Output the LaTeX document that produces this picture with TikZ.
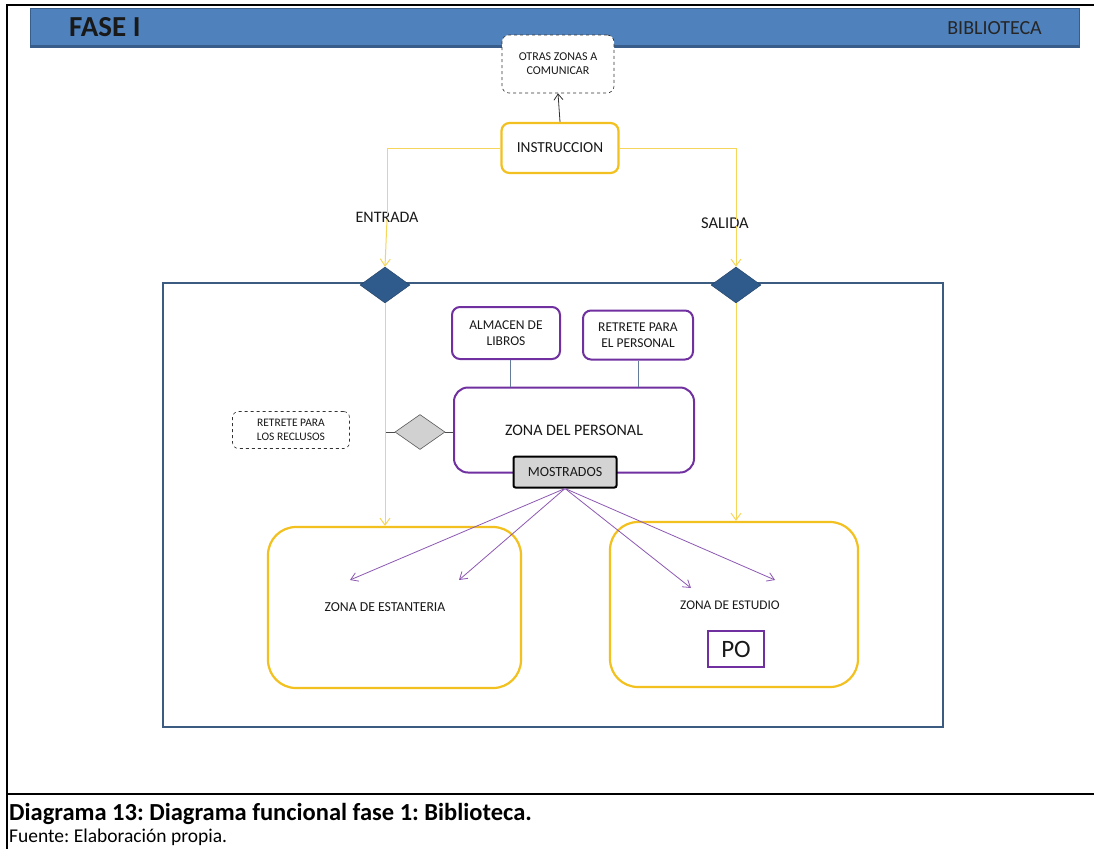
\documentclass[tikz,border=0pt]{standalone}
\usepackage{fontspec}
\setmainfont{Carlito}
\usetikzlibrary{shapes.geometric,arrows.meta}
\definecolor{hdr}{HTML}{4F81BD}
\definecolor{hdrdark}{HTML}{385D8A}
\definecolor{frameblue}{HTML}{3B5B80}
\definecolor{ylw}{HTML}{F2C11F}
\definecolor{ylwline}{HTML}{F5D65A}
\definecolor{prp}{HTML}{7030A0}
\definecolor{dia}{HTML}{2F5A8C}
\frenchspacing
\tikzset{
  x=1pt,y=-1pt,
  every node/.style={font=\fontsize{14}{16}\selectfont, align=center, inner sep=0pt, text=black!90},
  ybox/.style={draw=ylw, line width=2.2pt, rounded corners=14pt, fill=white},
  pbox/.style={draw=prp, line width=2pt, rounded corners=8pt, fill=white},
  dbox/.style={draw=black!80, dashed, line width=0.6pt, rounded corners=7pt, fill=white},
  yline/.style={draw=ylwline, line width=1pt},
  yarrow/.style={yline, -{Straight Barb[length=7pt,width=10pt]}},
  parrow/.style={draw=prp!80, line width=0.8pt, -{Straight Barb[length=7pt,width=9pt]}},
  bdia/.style={diamond, fill=dia, draw=dia!70!black, minimum width=50pt, minimum height=36pt, aspect=1.4},
}
\begin{document}
\begin{tikzpicture}
\useasboundingbox (0,0) rectangle (1094,849);
\fill[white] (0,0) rectangle (1094,849);
% outer frame
\draw[line width=2pt] (1094,5) -- (7,5) -- (7,849);
\draw[line width=2pt] (7,794) -- (1094,794);
% header
\fill[hdr] (30,8) rectangle (1079,47);
\draw[hdrdark, line width=2pt] (30,46) -- (1079,46);
\draw[hdrdark, line width=0.6pt] (30,8) rectangle (1079,47);
\node[anchor=base west, font=\fontsize{29}{31}\selectfont\bfseries, text=black!90] (fase) at (69,36) {FASE I};
\node[anchor=base east, font=\fontsize{20}{22}\selectfont, text=black!85] (bib) at (1042,34) {BIBLIOTECA};
% big room frame
\draw[frameblue, line width=2.5pt] (163,283) rectangle (943,727);
% top nodes
\node[dbox, minimum width=112pt, minimum height=58pt, font=\fontsize{12}{14}\selectfont] (otras) at (558,64) {OTRAS ZONAS A\\COMUNICAR};
\node[ybox, rounded corners=8pt, minimum width=117pt, minimum height=50pt, font=\fontsize{15.3}{17}\selectfont] (instr) at (560,148) {INSTRUCCION};
\draw[black!80, line width=0.8pt, -{Straight Barb[length=6pt,width=9pt]}] (instr.north) -- (otras.south);
% labels
\node[font=\fontsize{16}{18}\selectfont] (ent) at (387,217) {ENTRADA};
\node[font=\fontsize{16.5}{18}\selectfont] (sal) at (725,223) {SALIDA};
% diamonds
\node[bdia] (dl) at (385,285) {};
\node[bdia] (dr) at (736,285) {};
% yellow connectors
\draw[yline] (instr.west) -| ([yshift=-3pt]ent.north);
\draw[yline] (instr.east) -| ([yshift=-3pt]sal.north -| 736,0);
\draw[yarrow] ([yshift=3pt]ent.south) -- (dl.north);
\draw[yarrow] ([yshift=3pt]sal.south -| 736,0) -- (dr.north);
% inner boxes
\node[pbox, minimum width=108pt, minimum height=52pt, font=\fontsize{13.5}{16}\selectfont] (alm) at (506,333) {ALMACEN DE\\LIBROS};
\node[pbox, minimum width=110pt, minimum height=49pt, font=\fontsize{13.5}{16}\selectfont] (ret) at (638,335) {RETRETE PARA\\EL PERSONAL};
\node[pbox, rounded corners=14pt, minimum width=240pt, minimum height=85pt, font=\fontsize{16}{18}\selectfont] (zp) at (574,430) {ZONA DEL PERSONAL};
\draw[frameblue!80, line width=0.6pt] (alm.south -| 510,0) -- (zp.north -| 510,0);
\draw[frameblue!80, line width=0.6pt] (ret.south) -- (zp.north -| ret.south);
\node[draw=black, line width=2pt, fill=black!17, rounded corners=2pt, minimum width=103pt, minimum height=31pt, font=\fontsize{14}{16}\selectfont] (most) at (565,472) {MOSTRADOS};
\node[diamond, fill=black!18, draw=black!65, line width=0.6pt, minimum width=50pt, minimum height=35pt, aspect=1.4] (gd) at (420,432) {};
\node[dbox, rounded corners=6pt, minimum width=117pt, minimum height=37pt, font=\fontsize{11.5}{14}\selectfont] (retr) at (291,430) {RETRETE PARA\\LOS RECLUSOS};
\draw[black!70, line width=0.6pt] (385,432) -- (gd.west);
\draw[black!70, line width=0.6pt] (gd.east) -- (zp.west |- gd.east);
% bottom zones
\node[ybox, rounded corners=28pt, minimum width=253pt, minimum height=161pt] (ze) at (394.5,607.5) {};
\node[font=\fontsize{13.7}{15}\selectfont] (zet) at (385,607) {ZONA DE ESTANTERIA};
\node[ybox, rounded corners=28pt, minimum width=248pt, minimum height=165pt] (zs) at (734,604.5) {};
\node[font=\fontsize{13.3}{15}\selectfont] (zst) at (730,605) {ZONA DE ESTUDIO};
\node[draw=prp, line width=2pt, fill=white, minimum width=56pt, minimum height=36pt, font=\fontsize{25}{26}\selectfont] (po) at (736,649) {PO};
\draw[yarrow] (dl.south) -- (dl.south |- ze.north);
\draw[yarrow] (dr.south) -- (dr.south |- zs.north);
% purple arrows
\coordinate (m1) at (350,580);
\coordinate (m2) at (459,580);
\coordinate (m3) at (691,588);
\coordinate (m4) at (775,580);
\foreach \t in {m1,m2,m3,m4} \draw[parrow] (most.south) -- (\t);
% caption
\node[anchor=base west, font=\fontsize{24.5}{27}\selectfont\bfseries, text=black] (cap) at (9,820) {Diagrama 13: Diagrama funcional fase 1: Biblioteca.};
\node[anchor=base west, font=\fontsize{19.5}{22}\selectfont, text=black] (src) at (9,842) {Fuente: Elaboración propia.};
\end{tikzpicture}
\end{document}
